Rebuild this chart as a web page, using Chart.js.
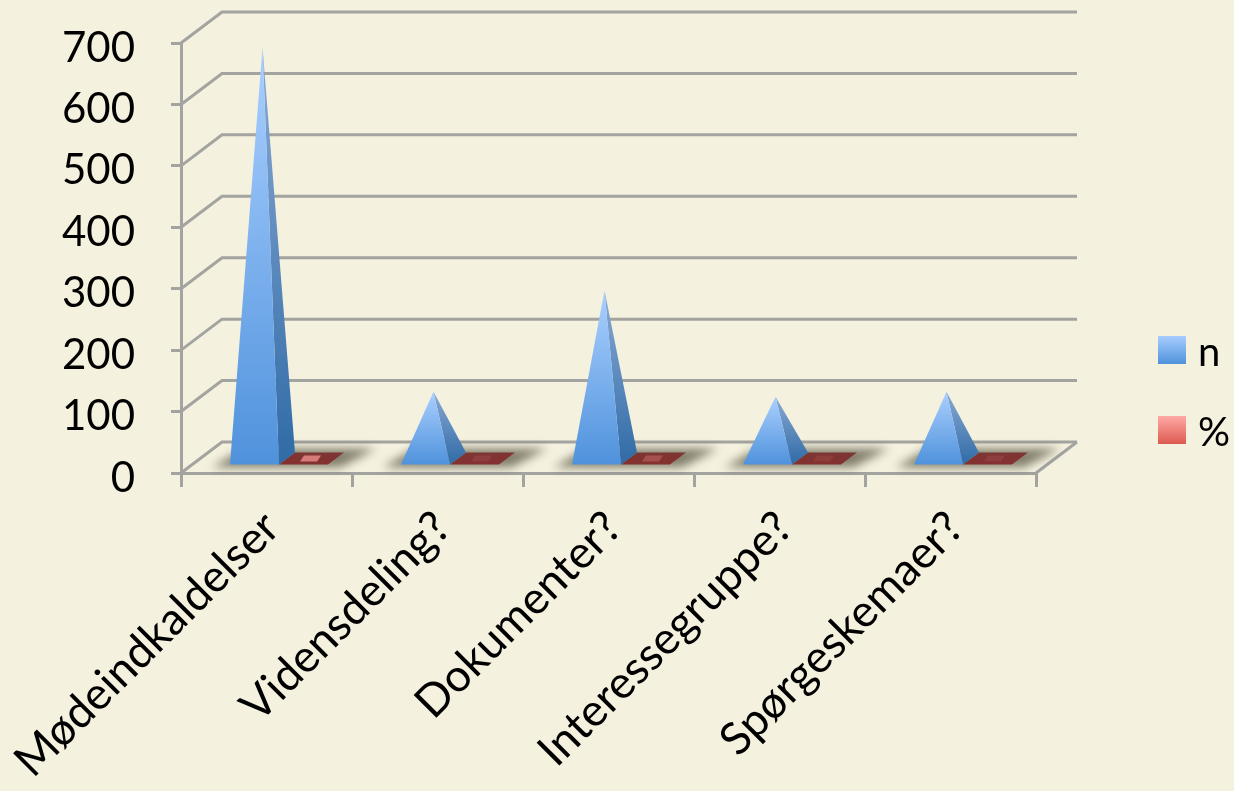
<!DOCTYPE html>
<html>
<head>
<meta charset="utf-8">
<title>Chart</title>
<script src="https://cdn.jsdelivr.net/npm/chart.js@4"></script>
<style>
html, body { margin: 0; padding: 0; background: #f4f1df; }
#wrap { position: relative; width: 1234px; height: 791px; }
</style>
</head>
<body>
<div id="wrap"><canvas id="chart" width="1234" height="791"></canvas></div>
<script>
// Data
const categories = ['Mødeindkaldelser', 'Vidensdeling?', 'Dokumenter?', 'Interessegruppe?', 'Spørgeskemaer?'];
const nValues = [672, 111, 276, 103, 111];
const percentValues = [0.55, 0.09, 0.23, 0.08, 0.09];
const seriesNames = ['n', '%'];

const FONT = 'Lato, Carlito, sans-serif';
const GRID = '#a3a3a0';

// Depth of the fake 3D box
const WALL_DX = 41, WALL_DY = 31;
// Where the bar footprint sits inside that depth
const FRONT_DX = 12.5, FRONT_DY = 7;
const SIDE_DX = 16, SIDE_DY = 12;

const canvas = document.getElementById('chart');
const ctx = canvas.getContext('2d');

function vGrad(y0, y1, c0, c1) {
    const g = ctx.createLinearGradient(0, y0, 0, y1);
    g.addColorStop(0, c0);
    g.addColorStop(1, c1);
    return g;
}

function poly(c, pts, fill) {
    c.beginPath();
    pts.forEach(function(p, i) {
        if (i === 0) c.moveTo(p[0], p[1]); else c.lineTo(p[0], p[1]);
    });
    c.closePath();
    c.fillStyle = fill;
    c.fill();
}

const nSwatch = vGrad(336, 364, '#a8cdfe', '#4f92dc');
const pctSwatch = vGrad(416, 444, '#ffaaa6', '#dd5a50');

// Back wall, floor and the diagonals going back from the value axis
const wallPlugin = {
    id: 'wall',
    beforeDatasetsDraw(chart) {
        const c = chart.ctx, y = chart.scales.y, a = chart.chartArea;
        c.save();
        c.strokeStyle = GRID;
        c.lineWidth = 3;
        y.ticks.forEach(function(t) {
            const py = y.getPixelForValue(t.value);
            c.beginPath();
            c.moveTo(a.left, py);
            c.lineTo(a.left + WALL_DX, py - WALL_DY);
            c.lineTo(a.right + WALL_DX, py - WALL_DY);
            c.stroke();
        });
        c.beginPath();
        c.moveTo(a.right, a.bottom);
        c.lineTo(a.right + WALL_DX, a.bottom - WALL_DY);
        c.stroke();
        c.restore();
    }
};

// Draws the bars of each dataset as pyramids on the floor
const pyramidPlugin = {
    id: 'pyramid',
    beforeDatasetsDraw(chart) {
        const c = chart.ctx;
        const blue = chart.getDatasetMeta(0).data;
        const red = chart.getDatasetMeta(1).data;
        blue.forEach(function(bar, i) {
            const w = bar.width;
            const base = bar.base;
            const left = bar.x - w / 2 + FRONT_DX;
            const fy = base - FRONT_DY;
            const by = fy - SIDE_DY;
            // soft shadow under both bars
            c.save();
            c.filter = 'blur(5px)';
            poly(c, [[left - 18, fy + 3], [left + w * 2 + 12, fy + 3], [left + w * 2 + 48, by - 4], [left + 14, by - 4]], 'rgba(92,88,70,0.75)');
            c.restore();

            // red bar is nearly flat, so only its footprint shows
            const rv = percentValues[i];
            const rl = red[i].x - w / 2 + FRONT_DX;
            poly(c, [[rl, fy], [rl + w, fy], [rl + w + SIDE_DX, by], [rl + SIDE_DX, by]], vGrad(by, fy, '#7d3633', '#843030'));
            c.save();
            c.globalAlpha = Math.min(1, rv * 1.5);
            poly(c, [[rl + 21, fy - 3], [rl + 38, fy - 3], [rl + 42, by + 3], [rl + 25, by + 3]], '#e98a88');
            c.restore();

            // blue pyramid, front face and side face
            const topX = left + w / 2 + SIDE_DX / 2 ;
            const topY = bar.y - (FRONT_DY + SIDE_DY / 2);
            poly(c, [[left + w, fy], [left + w + SIDE_DX, by], [topX, topY]], vGrad(topY, fy, '#8aa9d4', '#2f6ba6'));
            poly(c, [[left, fy], [left + w, fy], [topX, topY]], vGrad(topY, fy, '#abd0ff', '#4f92dc'));
        });
        return true;
    },
    beforeDatasetDraw() {
        return false;
    },
    beforeLayout(chart) {
        // reserve the space the legend has in the picture
        const l = chart.legend;
        if (!l._fitWrapped) {
            const fit = l.fit;
            l.fit = function() {
                fit.call(this);
                this.width = 198;
            };
            l._fitWrapped = true;
        }
    },
    afterLayout(chart) {
        // put the legend where the picture has it
        const l = chart.legend;
        l.left = 1118;
        l.right = 1234;
        l.top = -1;
        l.bottom = 788;
    },
    afterDraw(chart) {
        // legend text sits close to the swatch, so widen the swatches by hand
        const c = chart.ctx;
        c.fillStyle = nSwatch;
        c.fillRect(1158, 336, 28, 28);
        c.fillStyle = pctSwatch;
        c.fillRect(1158, 416, 28, 28);
    }
};

new Chart(ctx, {
    type: 'bar',
    data: {
        labels: categories,
        datasets: [
            { label: seriesNames[0], data: nValues, backgroundColor: nSwatch, borderWidth: 0 },
            { label: seriesNames[1], data: percentValues, backgroundColor: pctSwatch, borderWidth: 0 }
        ]
    },
    options: {
        responsive: false,
        animation: false,
        layout: { padding: 0 },
        categoryPercentage: 0.573,
        barPercentage: 1,
        plugins: {
            legend: {
                position: 'right',
                labels: {
                    boxWidth: 20,
                    boxHeight: 20,
                    padding: 40,
                    color: '#000',
                    font: { family: FONT, size: 40 }
                }
            },
            tooltip: { enabled: false }
        },
        scales: {
            x: {
                afterFit(scale) {
                    scale.height = 318;
                    scale.paddingLeft = 0;
                    scale.paddingRight = 0;
                },
                grid: { drawOnChartArea: false, color: GRID, lineWidth: 3, tickLength: 14 },
                border: { color: GRID, width: 3 },
                ticks: {
                    color: '#000',
                    font: { family: FONT, size: 45 },
                    minRotation: 45,
                    maxRotation: 45,
                    padding: 14,
                    labelOffset: 5,
                    autoSkip: false
                }
            },
            y: {
                min: 0,
                max: 700,
                afterFit(scale) {
                    scale.width = 181;
                    scale.paddingTop = 43;
                    scale.paddingBottom = 0;
                },
                grid: { drawOnChartArea: false, color: GRID, lineWidth: 3, tickLength: 10 },
                border: { color: GRID, width: 3 },
                ticks: {
                    stepSize: 100,
                    color: '#000',
                    padding: 36,
                    labelOffset: 5,
                    font: { family: FONT, size: 42 }
                }
            }
        }
    },
    plugins: [wallPlugin, pyramidPlugin]
});
</script>
</body>
</html>
